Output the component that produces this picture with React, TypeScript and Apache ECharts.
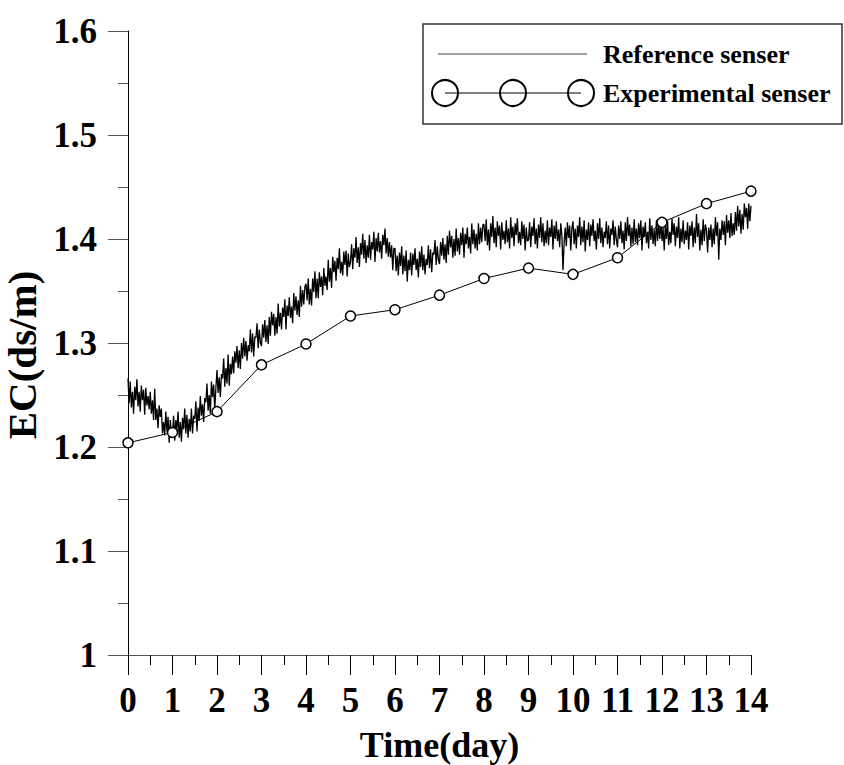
import React, { useEffect, useRef } from "react";
import * as echarts from "echarts";

const xTicks = [0, 1, 2, 3, 4, 5, 6, 7, 8, 9, 10, 11, 12, 13, 14];

// Experimental sensor: one reading per day
const expDays = [0, 1, 2, 3, 4, 5, 6, 7, 8, 9, 10, 11, 12, 13, 14];
const expValues = [1.204, 1.214, 1.234, 1.279, 1.299, 1.326, 1.332, 1.346, 1.362, 1.372, 1.366, 1.382, 1.416, 1.434, 1.446];

// Reference sensor: 40 readings per day (step 0.025 day)
const refStep = 0.025;
const refDay0 = [
  1.266, 1.242, 1.263, 1.238, 1.253, 1.232, 1.258, 1.245, 1.265, 1.239,
  1.253, 1.234, 1.259, 1.245, 1.255, 1.231, 1.257, 1.24, 1.249, 1.236,
  1.253, 1.232, 1.245, 1.226, 1.256, 1.226, 1.237, 1.218, 1.24, 1.229,
  1.237, 1.213, 1.224, 1.211, 1.234, 1.215, 1.229, 1.204, 1.226, 1.213,
];
const refDay1 = [
  1.213, 1.23, 1.206, 1.226, 1.217, 1.234, 1.209, 1.224, 1.205, 1.228,
  1.217, 1.237, 1.213, 1.231, 1.209, 1.227, 1.215, 1.237, 1.213, 1.23,
  1.227, 1.244, 1.215, 1.238, 1.225, 1.249, 1.23, 1.241, 1.224, 1.247,
  1.243, 1.261, 1.235, 1.25, 1.232, 1.263, 1.248, 1.26, 1.236, 1.257,
];
const refDay2 = [
  1.274, 1.252, 1.267, 1.248, 1.27, 1.266, 1.285, 1.258, 1.276, 1.261,
  1.289, 1.259, 1.28, 1.27, 1.287, 1.271, 1.292, 1.281, 1.297, 1.276,
  1.293, 1.275, 1.3, 1.285, 1.305, 1.287, 1.302, 1.283, 1.298, 1.292,
  1.313, 1.291, 1.309, 1.287, 1.306, 1.305, 1.319, 1.295, 1.313, 1.3,
];
const refDay3 = [
  1.297, 1.318, 1.305, 1.322, 1.301, 1.317, 1.299, 1.325, 1.307, 1.33,
  1.317, 1.328, 1.307, 1.325, 1.309, 1.338, 1.316, 1.329, 1.313, 1.334,
  1.325, 1.342, 1.313, 1.336, 1.326, 1.344, 1.324, 1.335, 1.319, 1.348,
  1.331, 1.345, 1.327, 1.341, 1.325, 1.355, 1.335, 1.351, 1.337, 1.354,
];
const refDay4 = [
  1.357, 1.341, 1.362, 1.337, 1.352, 1.336, 1.362, 1.349, 1.369, 1.343,
  1.362, 1.343, 1.368, 1.354, 1.364, 1.346, 1.372, 1.355, 1.364, 1.351,
  1.38, 1.359, 1.372, 1.353, 1.383, 1.368, 1.379, 1.36, 1.382, 1.371,
  1.391, 1.367, 1.378, 1.365, 1.388, 1.375, 1.389, 1.364, 1.386, 1.373,
];
const refDay5 = [
  1.378, 1.395, 1.371, 1.391, 1.382, 1.402, 1.377, 1.392, 1.373, 1.396,
  1.385, 1.405, 1.381, 1.399, 1.377, 1.394, 1.382, 1.404, 1.38, 1.397,
  1.39, 1.407, 1.378, 1.401, 1.388, 1.406, 1.387, 1.398, 1.381, 1.404,
  1.394, 1.41, 1.386, 1.401, 1.383, 1.397, 1.382, 1.394, 1.37, 1.391,
];
const refDay6 = [
  1.391, 1.369, 1.384, 1.365, 1.387, 1.374, 1.393, 1.366, 1.384, 1.369,
  1.389, 1.359, 1.38, 1.37, 1.387, 1.365, 1.386, 1.375, 1.391, 1.37,
  1.381, 1.363, 1.388, 1.373, 1.393, 1.37, 1.385, 1.366, 1.381, 1.375,
  1.394, 1.372, 1.39, 1.368, 1.387, 1.385, 1.399, 1.375, 1.393, 1.38,
];
const refDay7 = [
  1.376, 1.397, 1.384, 1.401, 1.38, 1.395, 1.377, 1.403, 1.385, 1.408,
  1.392, 1.403, 1.382, 1.4, 1.384, 1.41, 1.388, 1.401, 1.385, 1.406,
  1.394, 1.411, 1.382, 1.405, 1.395, 1.411, 1.391, 1.402, 1.386, 1.415,
  1.395, 1.409, 1.391, 1.405, 1.389, 1.415, 1.395, 1.411, 1.397, 1.414,
];
const refDay8 = [
  1.414, 1.398, 1.419, 1.394, 1.409, 1.389, 1.415, 1.402, 1.422, 1.396,
  1.411, 1.392, 1.417, 1.403, 1.413, 1.39, 1.416, 1.399, 1.408, 1.395,
  1.418, 1.397, 1.41, 1.391, 1.421, 1.401, 1.412, 1.393, 1.415, 1.404,
  1.42, 1.396, 1.407, 1.394, 1.417, 1.4, 1.414, 1.389, 1.411, 1.398,
];
const refDay9 = [
  1.399, 1.416, 1.392, 1.412, 1.403, 1.42, 1.395, 1.41, 1.391, 1.414,
  1.401, 1.421, 1.397, 1.415, 1.393, 1.408, 1.396, 1.418, 1.394, 1.411,
  1.402, 1.419, 1.39, 1.413, 1.4, 1.417, 1.398, 1.409, 1.392, 1.415,
  1.404, 1.37, 1.396, 1.411, 1.393, 1.416, 1.401, 1.413, 1.389, 1.41,
];
const refDay10 = [
  1.417, 1.395, 1.41, 1.391, 1.413, 1.402, 1.421, 1.394, 1.412, 1.397,
  1.418, 1.388, 1.409, 1.399, 1.416, 1.393, 1.414, 1.403, 1.419, 1.398,
  1.408, 1.39, 1.415, 1.4, 1.42, 1.396, 1.411, 1.392, 1.407, 1.401,
  1.417, 1.395, 1.413, 1.391, 1.41, 1.404, 1.418, 1.394, 1.412, 1.399,
];
const refDay11 = [
  1.392, 1.413, 1.4, 1.417, 1.396, 1.408, 1.39, 1.416, 1.398, 1.421,
  1.403, 1.414, 1.393, 1.411, 1.395, 1.419, 1.397, 1.41, 1.394, 1.415,
  1.401, 1.418, 1.389, 1.412, 1.402, 1.416, 1.396, 1.407, 1.391, 1.42,
  1.399, 1.413, 1.395, 1.409, 1.393, 1.418, 1.398, 1.414, 1.4, 1.417,
];
const refDay12 = [
  1.398, 1.411, 1.389, 1.414, 1.4, 1.417, 1.394, 1.407, 1.396, 1.42,
  1.404, 1.415, 1.393, 1.412, 1.401, 1.421, 1.391, 1.41, 1.397, 1.418,
  1.395, 1.408, 1.399, 1.416, 1.39, 1.413, 1.403, 1.417, 1.392, 1.411,
  1.396, 1.424, 1.402, 1.415, 1.389, 1.409, 1.394, 1.419, 1.398, 1.414,
];
const refDay13 = [
  1.408, 1.387, 1.411, 1.399, 1.414, 1.392, 1.41, 1.395, 1.421, 1.403,
  1.416, 1.38, 1.41, 1.399, 1.418, 1.404, 1.417, 1.394, 1.423, 1.406,
  1.418, 1.401, 1.425, 1.403, 1.415, 1.404, 1.426, 1.408, 1.432, 1.412,
  1.428, 1.405, 1.424, 1.409, 1.434, 1.421, 1.43, 1.41, 1.434, 1.417,
];
const refDay14 = [1.432];

const refValues = [
  ...refDay0, ...refDay1, ...refDay2, ...refDay3, ...refDay4, ...refDay5, ...refDay6,
  ...refDay7, ...refDay8, ...refDay9, ...refDay10, ...refDay11, ...refDay12, ...refDay13, ...refDay14,
];

const seriesNames = ["Reference senser", "Experimental senser"];
const xName = "Time(day)";
const yName = "EC(ds/m)";

const FONT = "'Liberation Serif', 'Times New Roman', serif";

export default function App() {
  const ref = useRef<HTMLDivElement>(null);

  useEffect(() => {
    document.body.style.margin = "0";
    if (!ref.current) return;
    const chart = echarts.init(ref.current, undefined, { renderer: "svg" });

    const refData = refValues.map((v, i) => [+(i * refStep).toFixed(3), v]);
    const expData = expDays.map((d, i) => [d, expValues[i]]);

    const axisLineStyle = { color: "#000", width: 1 };

    chart.setOption({
      animation: false,
      backgroundColor: "#fff",
      grid: {
        left: 128,
        right: 93,
        top: 31,
        bottom: 110,
        containLabel: false,
        outerBoundsMode: "none",
      },
      xAxis: {
        type: "value",
        min: 0,
        max: 14,
        interval: 1,
        name: xName,
        nameLocation: "middle",
        nameGap: 72,
        nameTextStyle: { fontFamily: FONT, fontWeight: "bold", fontSize: 36, color: "#000" },
        axisLine: { show: true, onZero: false, lineStyle: { color: "#555", width: 1 } },
        axisTick: { show: true, inside: false, length: 20, lineStyle: axisLineStyle },
        minorTick: { show: true, splitNumber: 2, length: 10, lineStyle: axisLineStyle },
        axisLabel: {
          margin: 28,
          fontFamily: FONT,
          fontWeight: "bold",
          fontSize: 35,
          color: "#000",
          formatter: (v: number) => (xTicks.includes(v) ? String(v) : ""),
        },
        splitLine: { show: false },
        minorSplitLine: { show: false },
      },
      yAxis: {
        type: "value",
        min: 1,
        max: 1.6,
        interval: 0.1,
        name: yName,
        nameLocation: "middle",
        nameGap: 70,
        nameRotate: 90,
        nameTextStyle: {
          fontFamily: FONT,
          fontWeight: "bold",
          fontSize: 41,
          color: "#000",
          padding: [0, 24, 0, 0],
        },
        axisLine: { show: true, onZero: false, lineStyle: axisLineStyle },
        axisTick: { show: true, inside: false, length: 20, lineStyle: { color: "#555", width: 1 } },
        minorTick: { show: true, splitNumber: 2, length: 10, lineStyle: { color: "#555", width: 1 } },
        axisLabel: {
          margin: 31,
          fontFamily: FONT,
          fontWeight: "bold",
          fontSize: 35,
          color: "#000",
          formatter: (v: number) => (Math.abs(v - 1) < 1e-9 ? "1" : v.toFixed(1)),
        },
        splitLine: { show: false },
        minorSplitLine: { show: false },
      },
      series: [
        {
          name: seriesNames[0],
          type: "line",
          data: refData,
          showSymbol: false,
          symbol: "none",
          lineStyle: { color: "#000", width: 1.3 },
          z: 2,
        },
        {
          name: seriesNames[1],
          type: "line",
          data: expData,
          symbol: "circle",
          symbolSize: 10,
          itemStyle: { color: "#fff", borderColor: "#000", borderWidth: 1.5 },
          lineStyle: { color: "#000", width: 1 },
          z: 3,
        },
      ],
      graphic: [
        {
          type: "rect",
          shape: { x: 423, y: 24, width: 419, height: 100 },
          style: { fill: "#fff", stroke: "#333", lineWidth: 1.5 },
          z: 10,
        },
        {
          type: "line",
          shape: { x1: 438, y1: 54, x2: 587, y2: 54 },
          style: { stroke: "#444", lineWidth: 1 },
          z: 11,
        },
        {
          type: "text",
          x: 603,
          y: 54,
          style: {
            text: seriesNames[0],
            fontFamily: FONT,
            fontWeight: "bold",
            fontSize: 26,
            fill: "#000",
            verticalAlign: "middle",
            align: "left",
          },
          z: 11,
        },
        {
          type: "line",
          shape: { x1: 445, y1: 93, x2: 581, y2: 93 },
          style: { stroke: "#000", lineWidth: 1 },
          z: 11,
        },
        {
          type: "circle",
          shape: { cx: 445, cy: 93, r: 13 },
          style: { fill: "none", stroke: "#000", lineWidth: 2 },
          z: 12,
        },
        {
          type: "circle",
          shape: { cx: 513, cy: 93, r: 13 },
          style: { fill: "none", stroke: "#000", lineWidth: 2 },
          z: 12,
        },
        {
          type: "circle",
          shape: { cx: 581, cy: 93, r: 13 },
          style: { fill: "none", stroke: "#000", lineWidth: 2 },
          z: 12,
        },
        {
          type: "text",
          x: 603,
          y: 93,
          style: {
            text: seriesNames[1],
            fontFamily: FONT,
            fontWeight: "bold",
            fontSize: 26,
            fill: "#000",
            verticalAlign: "middle",
            align: "left",
          },
          z: 11,
        },
      ],
    });

    return () => chart.dispose();
  }, []);

  return <div ref={ref} style={{ width: 844, height: 765 }} />;
}
